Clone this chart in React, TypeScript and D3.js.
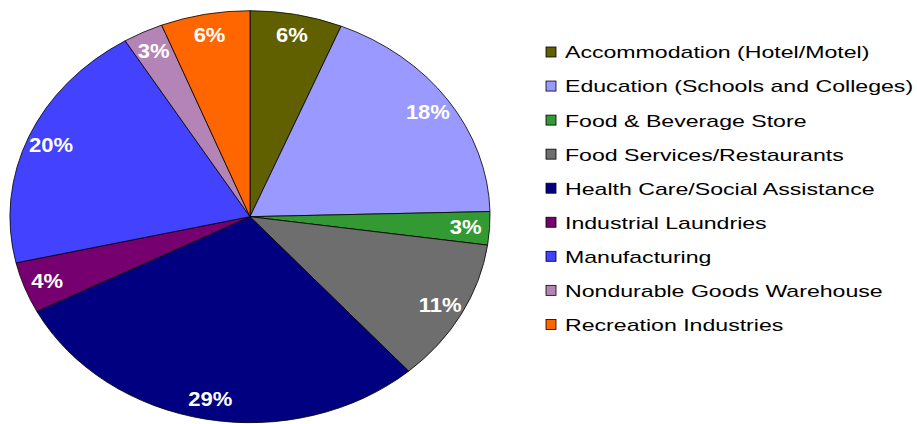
import React from "react";
import * as d3 from "d3";

const categories = [
  "Accommodation (Hotel/Motel)",
  "Education (Schools and Colleges)",
  "Food & Beverage Store",
  "Food Services/Restaurants",
  "Health Care/Social Assistance",
  "Industrial Laundries",
  "Manufacturing",
  "Nondurable Goods Warehouse",
  "Recreation Industries",
];
const values = [6.2, 18.4, 2.6, 11.3, 28.9, 4.0, 19.9, 2.7, 6.0];
const labels = ["6%", "18%", "3%", "11%", "29%", "4%", "20%", "3%", "6%"];
const colors = [
  "#606000",
  "#9999FF",
  "#339933",
  "#6E6E6E",
  "#000080",
  "#770070",
  "#4242FF",
  "#B384B5",
  "#FF6600",
];

const W = 917;
const H = 424;
const CX = 250;
const CY = 216.7;
const RX = 240;
const RY = 206;

export default function App() {
  const data = categories.map((c, i) => ({ name: c, value: values[i], label: labels[i], color: colors[i] }));
  const pie = d3
    .pie<any>()
    .sort(null)
    .value((d: any) => d.value)
    .startAngle(0)
    .endAngle(2 * Math.PI);
  const arcs = pie(data);
  const arc = d3.arc<any>().innerRadius(0).outerRadius(1);
  const legendY = d3.scaleLinear().domain([0, categories.length - 1]).range([52, 324.4]);

  return (
    <svg
      width={W}
      height={H}
      style={{ position: "absolute", left: 0, top: 0, background: "#fff" }}
    >
      <g transform={`translate(${CX},${CY}) scale(${RX},${RY})`}>
        {arcs.map((a, i) => (
          <path
            key={i}
            d={arc(a) as string}
            fill={a.data.color}
            stroke="#000"
            strokeWidth={0.8}
            vectorEffect="non-scaling-stroke"
          />
        ))}
      </g>
      {arcs.map((a, i) => {
        const mid = (a.startAngle + a.endAngle) / 2;
        const k = 0.9;
        const x = CX + RX * k * Math.sin(mid);
        const y = CY - RY * k * Math.cos(mid);
        return (
          <text
            key={i}
            transform={`translate(${x},${y + 7.2}) scale(1.1,1)`}
            textAnchor="middle"
            fill="#fff"
            fontFamily="'Liberation Sans', Arial, sans-serif"
            fontWeight="bold"
            fontSize={20}
          >
            {a.data.label}
          </text>
        );
      })}
      {data.map((d, i) => {
        const y = legendY(i);
        return (
          <g key={i}>
            <rect x={546} y={y - 5} width={10} height={10} fill={d.color} stroke="#000" strokeWidth={0.8} />
            <text
              transform={`translate(565,${y + 6.4}) scale(1.36,1)`}
              fill="#000"
              fontFamily="'Liberation Sans', Arial, sans-serif"
              fontSize={17}
            >
              {d.name}
            </text>
          </g>
        );
      })}
    </svg>
  );
}
